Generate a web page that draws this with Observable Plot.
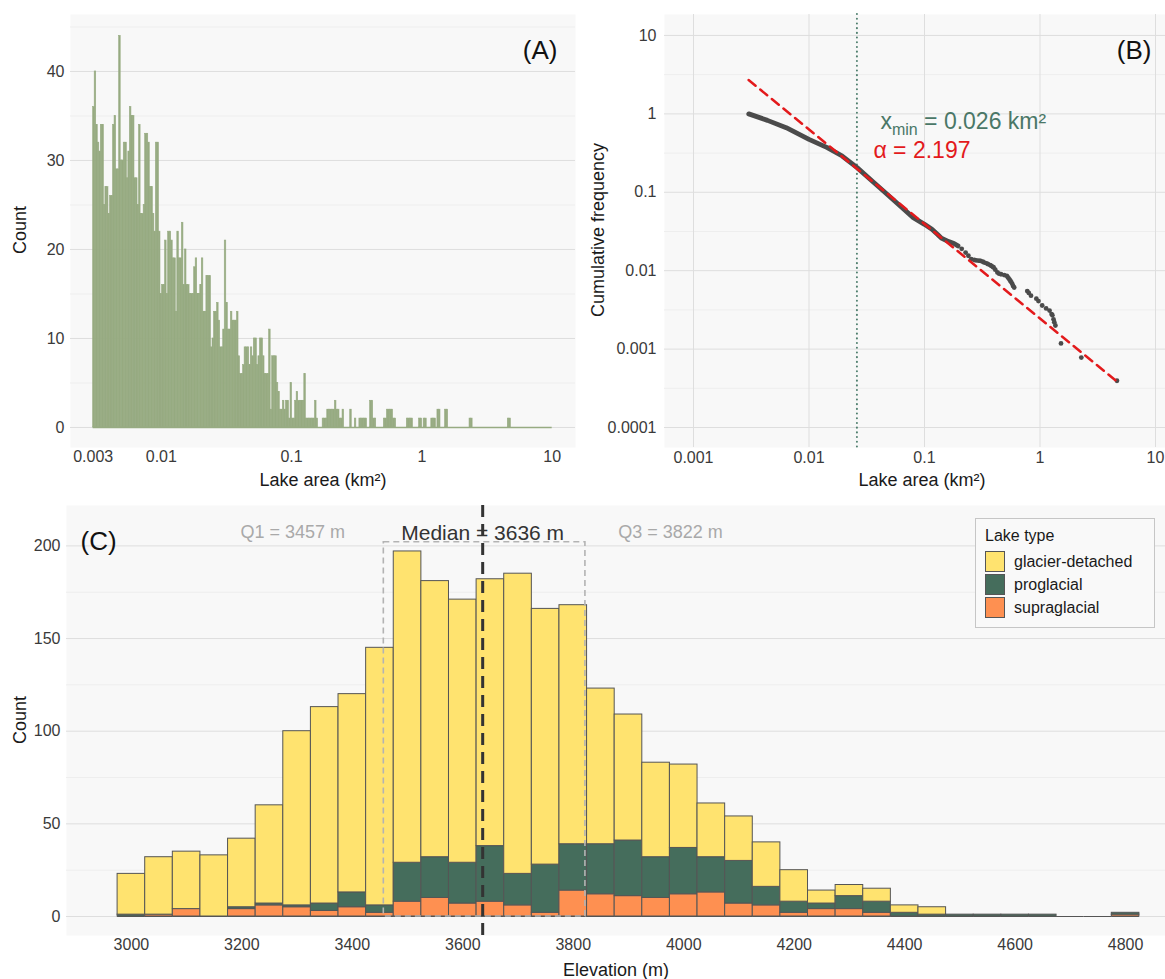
<!DOCTYPE html>
<html><head><meta charset="utf-8">
<script src="https://cdn.jsdelivr.net/npm/d3@7"></script>
<script src="https://cdn.jsdelivr.net/npm/@observablehq/plot@0.6"></script>
<style>
body{margin:0;background:#fff;font-family:"Liberation Sans",Arial,sans-serif;}
#wrap{position:relative;width:1165px;height:979px;overflow:hidden;background:#fff;}
.panel{position:absolute;}
.panel svg{max-width:none !important;}
.ttl{position:absolute;font-size:18px;color:#1a1a1a;white-space:nowrap;transform:translate(-50%,-50%);}
.rot{transform:translate(-50%,-50%) rotate(-90deg);}
.legend{position:absolute;box-sizing:border-box;border:1px solid #c6c6c6;background:#f9f9f9;padding:8px 9px;}
.legend .lt{font-size:16px;color:#1a1a1a;margin-bottom:6px;}
.legend .row{display:flex;align-items:center;height:21px;margin-bottom:2px;}
.legend .key{width:18px;height:19px;border:1px solid #555;margin-right:9px;}
.legend .lab{font-size:16px;color:#1a1a1a;}
</style></head><body><div id="wrap"></div>
<script>
// ---------- Panel A: histogram of lake area (log bins) ----------
const areaRange = [0.003, 10];
const areaBinCounts = [
36,40,34,32,31,34,34,25,27,27,
24,26,26,34,35,29,29,44,30,30,
32,32,28,31,36,35,35,28,28,25,
34,24,24,25,33,33,32,27,27,24,
22,32,32,22,15,16,16,21,15,22,
22,21,19,19,13,22,19,19,23,16,
20,16,16,15,15,15,18,19,15,15,
16,19,13,13,17,17,17,9,10,13,
13,14,12,9,9,11,21,14,11,11,
13,12,12,12,13,8,6,6,7,9,
9,9,7,9,8,10,10,7,8,10,
10,8,6,6,6,11,2,8,8,8,
5,4,2,2,3,2,3,3,1,5,
1,1,3,4,3,3,3,3,6,1,
1,1,1,1,1,3,1,0,0,0,
1,1,1,2,2,2,2,2,3,2,
2,1,1,2,0,0,0,0,2,0,
0,1,0,0,1,1,1,1,1,0,
0,3,3,1,1,0,0,0,0,0,
1,1,2,2,2,2,1,1,0,0,
0,0,0,0,0,1,1,1,1,0,
0,0,0,1,1,0,1,1,0,0,
0,1,1,1,0,2,2,0,0,0,
2,2,0,0,0,0,0,0,0,0,
0,0,0,0,0,0,1,1,0,0,
0,0,0,0,0,0,0,0,0,0,
0,0,0,0,0,0,0,0,0,0,
0,1,1,0,0,0,0,0,0,0,
0,0,0,0,0,0,0,0,0,0,
0,0,0,0,0,0,0,0,0,0];
const areaTicksA = [0.003, 0.01, 0.1, 1, 10];
const countTicksA = [0, 10, 20, 30, 40];
const countMinorA = [5, 15, 25, 35, 45];

// ---------- Panel B: cumulative frequency ----------
const ccdfDenseArea = [0.00301,0.00437,0.00635,0.01,0.0144,0.0194,0.0261,0.0352,0.0441,0.0593,0.080,0.1,0.116,0.13,0.14,0.162,0.18,0.195];
const ccdfDenseFreq = [1,0.826,0.667,0.473,0.371,0.290,0.206,0.139,0.104,0.0703,0.0475,0.039,0.0338,0.029,0.026,0.0235,0.0222,0.0207];
const ccdfTailArea = [0.21,0.227,0.24,0.254,0.27,0.28,0.295,0.306,0.32,0.33,0.345,0.355,0.37,0.38,0.39,0.397,0.41,0.428,0.44,0.46,0.49,0.516,0.525,0.535,0.545,0.555,0.565,0.575,0.585,0.598,0.776,0.80,0.836,0.93,0.97,1.045,1.13,1.21,1.26,1.28,1.31,1.33,1.36,1.52,2.28,4.64];
const ccdfTailFreq = [0.019,0.017,0.0155,0.014,0.0137,0.0135,0.0134,0.0133,0.013,0.0127,0.0124,0.0121,0.0118,0.0115,0.0112,0.0110,0.0103,0.0095,0.0092,0.0090,0.0088,0.0086,0.0083,0.0080,0.0077,0.0074,0.0071,0.0068,0.0064,0.0061,0.0055,0.0052,0.0048,0.0044,0.0041,0.0036,0.0033,0.0031,0.0028,0.0027,0.0024,0.0022,0.0020,0.00118,0.00078,0.000395];
const fitArea = [0.003, 4.7];
const fitFreq = [2.7, 0.00038];
const xminValue = 0.026;
const alphaValue = 2.197;
const bTicksX = [0.001, 0.01, 0.1, 1, 10];
const bTicksY = [10, 1, 0.1, 0.01, 0.001, 0.0001];
const bMinorY = [3.162, 0.3162, 0.03162, 0.003162, 0.0003162];

// ---------- Panel C: elevation stacked histogram ----------
const elevBins = [3000,3050,3100,3150,3200,3250,3300,3350,3400,3450,3500,3550,3600,3650,3700,3750,3800,3850,3900,3950,4000,4050,4100,4150,4200,4250,4300,4350,4400,4450,4500,4550,4600,4650,4700,4750,4800];
const glacierDetached = [22,31,31,33,37,53,94,106,107,139,168,149,142,144,162,138,129,84,68,51,45,29,24,24,17,7,6,7,4,4,0,0,0,0,0,0,0];
const proglacial      = [1,0,0,0,1,1,1,4,8,4,21,22,22,30,17,26,25,27,30,22,25,19,23,10,6,3,7,6,2,1,1,1,1,1,0,0,1];
const supraglacial    = [0,1,4,0,4,6,5,3,5,2,8,10,7,8,6,2,14,12,11,10,12,13,7,6,2,4,4,2,0,0,0,0,0,0,0,0,1];
const lakeTypes = ["glacier-detached", "proglacial", "supraglacial"];
const lakeColors = ["#ffe36f", "#456d5c", "#fe9051"];
const elevQ1 = 3457, elevMedian = 3636, elevQ3 = 3822;
const quartileBoxTop = 202;
const elevTicks = [3000,3200,3400,3600,3800,4000,4200,4400,4600,4800];
const countTicksC = [0, 50, 100, 150, 200];
const countMinorC = [25, 75, 125, 175];

const FONT = '"Liberation Sans", Arial, sans-serif';
const fmt = d3.format("~g");
const wrap = document.getElementById("wrap");
const baseStyle = {fontFamily: FONT, fontSize: "16px", color: "#3a3a3a", background: "transparent", overflow: "visible", maxWidth: "none"};
const PANEL_BG = "#f8f8f8", GRID = "#dedede", MINOR = "#eeeeee", TICK = "#3a3a3a";

function place(node, left, top) {
  const d = document.createElement("div");
  d.className = "panel"; d.style.left = left + "px"; d.style.top = top + "px";
  node.style.maxWidth = "none";
  d.appendChild(node); wrap.appendChild(d); return d;
}
function title(text, x, y, rot) {
  const d = document.createElement("div");
  d.className = "ttl" + (rot ? " rot" : "");
  d.style.left = x + "px"; d.style.top = y + "px"; d.textContent = text;
  wrap.appendChild(d);
}
function xLabels(values, format, dy) {
  return Plot.text(values, {x: d => d, text: format, frameAnchor: "bottom", dy, fill: TICK, fontSize: 16});
}
function yLabels(values, format, dx) {
  return Plot.text(values, {y: d => d, text: format, frameAnchor: "left", dx: -dx, textAnchor: "end", fill: TICK, fontSize: 16});
}

// ---- Panel A ----
const lo = Math.log10(areaRange[0]), hi = Math.log10(areaRange[1]);
const nb = areaBinCounts.length;
const histData = areaBinCounts.map((c, i) => ({
  x1: Math.pow(10, lo + (hi - lo) * i / nb),
  x2: Math.pow(10, lo + (hi - lo) * (i + 1) / nb),
  y1: 0, y2: c
}));
const plotA = Plot.plot({
  width: 580, height: 490, marginLeft: 70, marginRight: 5, marginTop: 14, marginBottom: 43,
  style: baseStyle,
  x: {type: "log", domain: [0.00201, 15.1], axis: null},
  y: {domain: [-2.25, 46.4], axis: null},
  marks: [
    Plot.frame({fill: PANEL_BG, stroke: "none"}),
    Plot.ruleY(countMinorA, {stroke: MINOR}),
    Plot.ruleY(countTicksA, {stroke: GRID}),
    Plot.rect(histData.filter(d => d.y2 > 0), {x1: "x1", x2: "x2", y1: "y1", y2: "y2", fill: "#97ab82", stroke: "#97ab82", strokeWidth: 0.6}),
    Plot.ruleY([0], {x1: histData[0].x1, x2: histData[nb - 1].x2, stroke: "#97ab82", strokeWidth: 1.5}),
    Plot.text(["(A)"], {frameAnchor: "top-right", dx: -18, dy: 26, fontSize: 26, fill: "#111"}),
    xLabels(areaTicksA, fmt, 14),
    yLabels(countTicksA, d => String(d), 6)
  ]
});
place(plotA, 0, 0);

// ---- Panel B ----
const denseData = ccdfDenseArea.map((a, i) => ({a, f: ccdfDenseFreq[i]}));
const tailData = ccdfTailArea.map((a, i) => ({a, f: ccdfTailFreq[i]}));
const fitData = fitArea.map((a, i) => ({a, f: fitFreq[i]}));
const plotB = Plot.plot({
  width: 585, height: 490, marginLeft: 84, marginRight: 0, marginTop: 14, marginBottom: 43,
  style: baseStyle,
  x: {type: "log", domain: [0.000561, 12.21], axis: null},
  y: {type: "log", domain: [0.0000556, 18.5], axis: null},
  marks: [
    Plot.frame({fill: PANEL_BG, stroke: "none"}),
    Plot.ruleY(bMinorY, {stroke: MINOR}),
    Plot.ruleY(bTicksY, {stroke: GRID}),
    Plot.ruleX(bTicksX, {stroke: GRID}),
    Plot.ruleX([xminValue], {stroke: "#4f7f6e", strokeWidth: 2, strokeDasharray: "0.1,4.6", strokeLinecap: "round"}),
    Plot.line(denseData, {x: "a", y: "f", stroke: "#4b4b4b", strokeWidth: 4.8, strokeLinecap: "round", strokeLinejoin: "round"}),
    Plot.dot(tailData, {x: "a", y: "f", r: 2.4, fill: "#4b4b4b"}),
    Plot.line(fitData, {x: "a", y: "f", stroke: "#e31a1c", strokeWidth: 2.5, strokeDasharray: "9,6"}),
    Plot.text(["(B)"], {frameAnchor: "top-right", dx: -14, dy: 26, fontSize: 26, fill: "#111"}),
    xLabels(bTicksX, fmt, 15),
    yLabels(bTicksY, fmt, 8)
  ]
});
place(plotB, 580, 0);
{
  const svgB = d3.select(plotB);
  const xl = plotB.scale("x").apply(xminValue);
  const t1 = svgB.append("text").attr("x", xl + 24).attr("y", 129).attr("text-anchor", "start")
    .attr("fill", "#4a7767").attr("font-size", 23).attr("font-family", FONT);
  t1.append("tspan").text("x");
  t1.append("tspan").attr("font-size", 16).attr("dy", 6).text("min");
  t1.append("tspan").attr("dy", -6).text(" = " + xminValue + " km²");
  svgB.append("text").attr("x", xl + 17).attr("y", 158).attr("text-anchor", "start")
    .attr("fill", "#e31a1c").attr("font-size", 23).attr("font-family", FONT)
    .text("α = " + alphaValue);
}

// ---- Panel C ----
const half = (elevBins[1] - elevBins[0]) / 2;
const cRects = [];
elevBins.forEach((e, i) => {
  let base = 0;
  [["supraglacial", supraglacial], ["proglacial", proglacial], ["glacier-detached", glacierDetached]].forEach(([t, arr]) => {
    const v = arr[i];
    if (v > 0) cRects.push({x1: e - half, x2: e + half, y1: base, y2: base + v, type: t});
    base += v;
  });
});
const plotC = Plot.plot({
  width: 1190, height: 489, marginLeft: 66, marginRight: 0, marginTop: 15, marginBottom: 44,
  style: baseStyle,
  x: {domain: [2882.5, 4917.5], axis: null},
  y: {domain: [-10.25, 221.8], axis: null},
  color: {domain: lakeTypes, range: lakeColors},
  marks: [
    Plot.frame({fill: PANEL_BG, stroke: "none"}),
    Plot.ruleY(countMinorC, {stroke: MINOR}),
    Plot.ruleY(countTicksC, {stroke: GRID}),
    Plot.ruleY(elevBins, {x1: d => d - half, x2: d => d + half, y: 0, stroke: "#555", strokeWidth: 1}),
    Plot.rect(cRects, {x1: "x1", x2: "x2", y1: "y1", y2: "y2", fill: "type", stroke: "#555", strokeWidth: 1}),
    Plot.rect([{q1: elevQ1, q3: elevQ3, top: quartileBoxTop}], {x1: "q1", x2: "q3", y1: 0, y2: "top", fill: "none", stroke: "#b3b3b3", strokeWidth: 1.6, strokeDasharray: "6,4"}),
    Plot.text([{x: elevQ1, t: `Q1 = ${elevQ1} m`}], {x: "x", text: "t", frameAnchor: "top", dy: 20, dx: -91, fontSize: 18, fill: "#a9a9a9"}),
    Plot.text([{x: elevQ3, t: `Q3 = ${elevQ3} m`}], {x: "x", text: "t", frameAnchor: "top", dy: 20, dx: 85, fontSize: 18, fill: "#a9a9a9"}),
    Plot.text([{x: elevMedian, t: `Median = ${elevMedian} m`}], {x: "x", text: "t", frameAnchor: "top", dy: 20, fontSize: 21, fill: "#333"}),
    Plot.ruleX([elevMedian], {stroke: "#333", strokeWidth: 3, strokeDasharray: "12,7"}),
    Plot.text(["(C)"], {frameAnchor: "top-left", dx: 14, dy: 26, fontSize: 26, fill: "#111", textAnchor: "start"}),
    xLabels(elevTicks, d => String(d), 14),
    yLabels(countTicksC, d => String(d), 6)
  ]
});
place(plotC, 0, 490);

// ---- Axis titles ----
title("Count", 20, 230, true);
title("Lake area (km²)", 323, 480);
title("Cumulative frequency", 598, 230, true);
title("Lake area (km²)", 922, 480);
title("Count", 20, 720, true);
title("Elevation (m)", 616, 970);

// ---- Legend ----
const lg = document.createElement("div");
lg.className = "legend";
lg.style.left = "975px"; lg.style.top = "518px"; lg.style.width = "180px"; lg.style.height = "110px";
const lt = document.createElement("div"); lt.className = "lt"; lt.textContent = "Lake type"; lg.appendChild(lt);
lakeTypes.forEach((t, i) => {
  const r = document.createElement("div"); r.className = "row";
  const k = document.createElement("div"); k.className = "key"; k.style.background = lakeColors[i];
  const l = document.createElement("div"); l.className = "lab"; l.textContent = t;
  r.appendChild(k); r.appendChild(l); lg.appendChild(r);
});
wrap.appendChild(lg);
</script>
</body></html>
